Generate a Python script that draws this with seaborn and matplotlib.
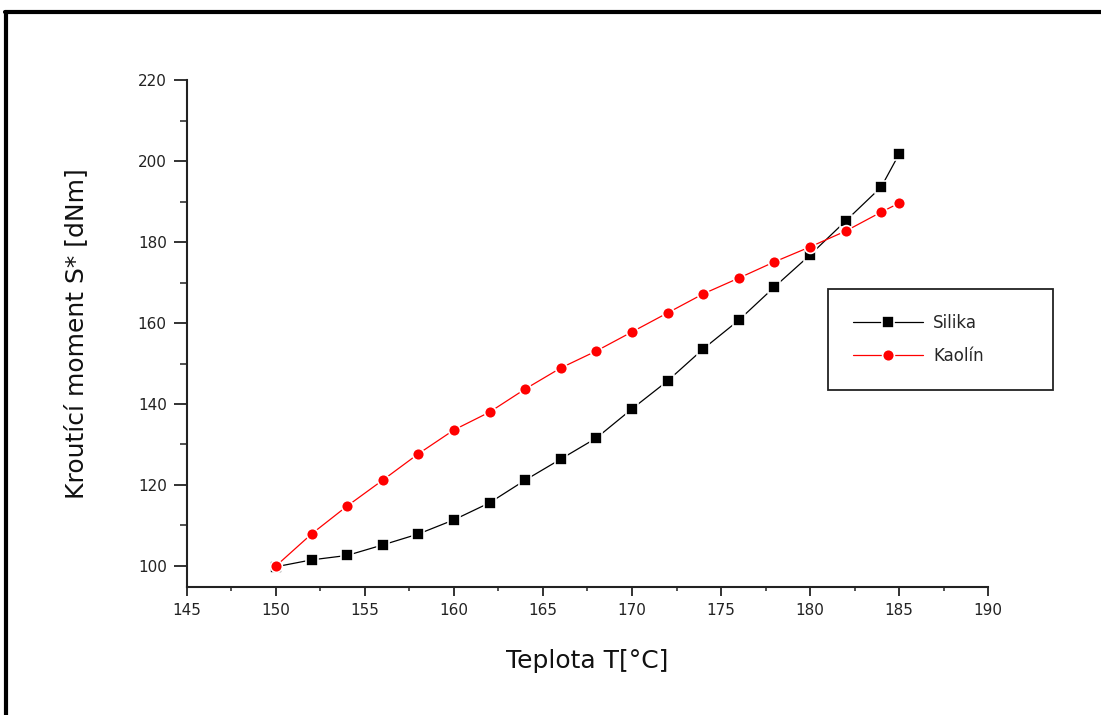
import pandas as pd
import seaborn as sns
import matplotlib.pyplot as plt
from matplotlib.lines import Line2D
from matplotlib.ticker import MultipleLocator

# teplota [°C]
teplota = [150, 152, 154, 156, 158, 160, 162, 164, 166, 168,
           170, 172, 174, 176, 178, 180, 182, 184, 185]
silika = [99.8, 101.5, 102.6, 105.2, 107.9, 111.4, 115.6, 121.2, 126.4, 131.6,
          138.8, 145.7, 153.6, 160.7, 168.9, 176.8, 185.2, 193.6, 201.7]
kaolin = [100.0, 107.9, 114.8, 121.2, 127.7, 133.6, 138.0, 143.7, 148.9, 153.1,
          157.8, 162.5, 167.2, 171.1, 175.1, 178.8, 182.7, 187.4, 189.6]
serie = ['Silika', 'Kaolín']

data = pd.DataFrame({
    'T': teplota * 2,
    'S': silika + kaolin,
    'material': [serie[0]] * len(teplota) + [serie[1]] * len(teplota),
})

sns.set_style('white')
plt.rcParams['font.family'] = ['DejaVu Sans']

fig = plt.figure(figsize=[11.01, 7.15], dpi=100)
ax = fig.add_axes([0.1698, 0.179, 0.7276, 0.709])

ax = sns.lineplot(data=data, x='T', y='S', hue='material', style='material',
                  palette={'Silika': 'black', 'Kaolín': 'red'},
                  markers={'Silika': 's', 'Kaolín': 'o'}, dashes=False,
                  linewidth=0.9, markersize=8.5, markeredgecolor='white',
                  markeredgewidth=1.2, ax=ax)

ax.set_xlim(145, 190)
ax.set_ylim(94.8, 220)
ax.xaxis.set_major_locator(MultipleLocator(5))
ax.xaxis.set_minor_locator(MultipleLocator(2.5))
ax.yaxis.set_major_locator(MultipleLocator(20))
ax.yaxis.set_minor_locator(MultipleLocator(10))

sns.despine(ax=ax)
for s in ['left', 'bottom']:
    ax.spines[s].set_linewidth(1.5)
    ax.spines[s].set_color('#222222')

ax.tick_params(axis='x', which='major', direction='out', length=6.5, width=1.3,
               labelsize=11, pad=5, bottom=True, colors='#222222')
ax.tick_params(axis='x', which='minor', direction='out', length=3, width=1.1,
               bottom=True, colors='#222222')
ax.tick_params(axis='y', which='major', direction='out', length=9.5, width=1.3,
               labelsize=11, pad=5, left=True, colors='#222222')
ax.tick_params(axis='y', which='minor', direction='out', length=5, width=1.1,
               left=True, colors='#222222')

ax.set_xlabel('Teplota T[°C]', fontsize=18, labelpad=22, color='#111111')
ax.set_ylabel('Kroutící moment S* [dNm]', fontsize=18, labelpad=36, color='#111111')

ax.legend(loc='center', bbox_to_anchor=(0.752, 0.457, 0.204, 0.137),
          bbox_transform=fig.transFigure, mode='expand', borderaxespad=0,
          fontsize=12, handlelength=4.2, handletextpad=0.6, frameon=True,
          fancybox=False, edgecolor='#222222', framealpha=1, title=None,
          borderpad=1.5, labelspacing=0.9)
ax.get_legend().get_frame().set_linewidth(1.3)

# outer frame (left and top edges)
fig.add_artist(Line2D([6 / 1101, 6 / 1101], [0, 1 - 11.5 / 715],
                      transform=fig.transFigure, color='black', linewidth=3))
fig.add_artist(Line2D([4.5 / 1101, 1], [1 - 11.5 / 715, 1 - 11.5 / 715],
                      transform=fig.transFigure, color='black', linewidth=3))

plt.savefig('out.png', dpi=100)
